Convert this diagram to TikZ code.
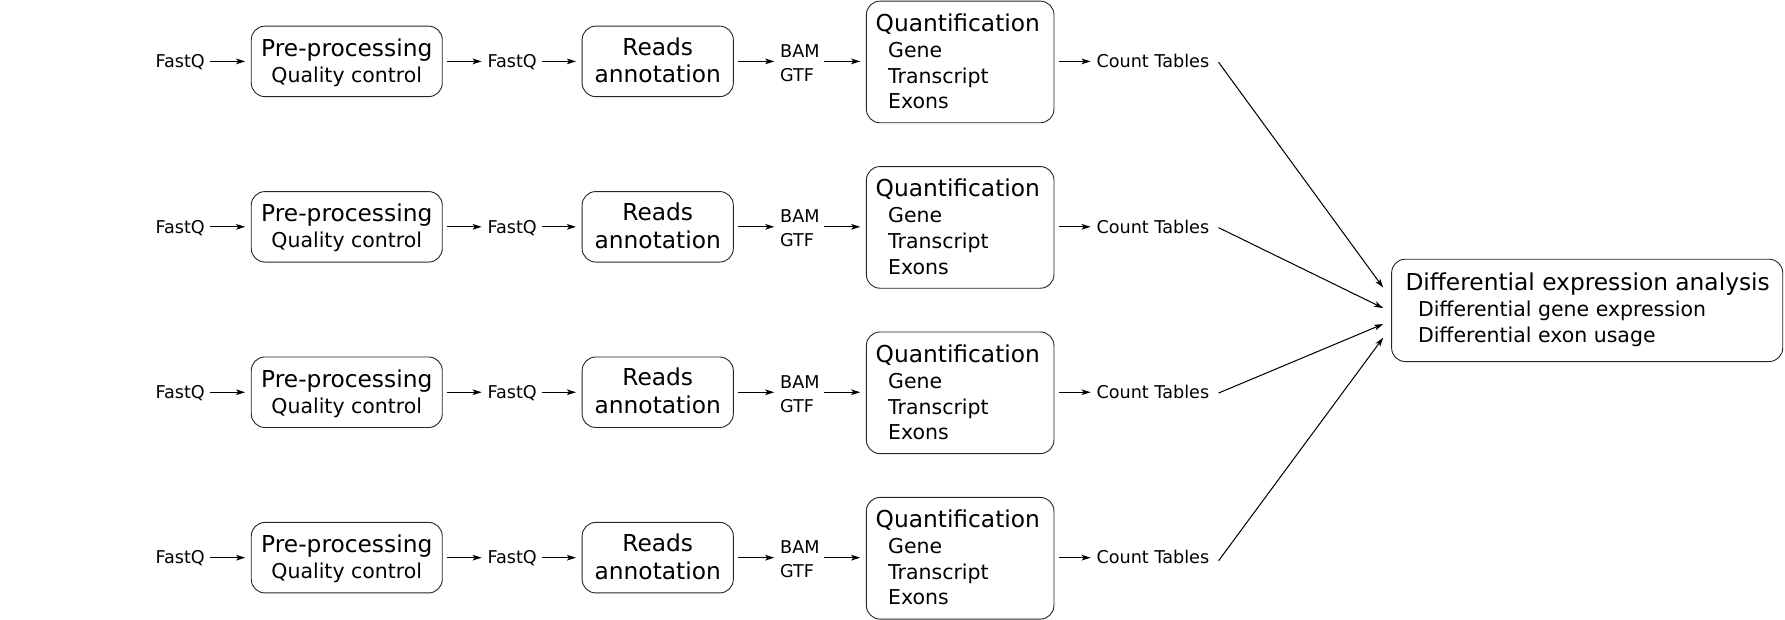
\documentclass[tikz,border=0pt]{standalone}
\usepackage{fontspec}
\setmainfont{DejaVu Sans}
\usetikzlibrary{arrows.meta,calc}
\begin{document}
\begin{tikzpicture}[x=1pt,y=-1pt,
  box/.style={draw=black!85, line width=0.8pt, rounded corners=12pt, inner sep=0pt},
  sm/.style={font=\fontsize{15.5}{18}\selectfont, inner sep=0pt, anchor=base},
  md/.style={font=\fontsize{18}{21}\selectfont, inner sep=0pt, anchor=base},
  lg/.style={font=\fontsize{20.5}{24}\selectfont, inner sep=0pt, anchor=base},
  tip/.style={-{Stealth[length=8pt,width=5pt,inset=2pt]}, line width=0.9pt},
  arr/.style={tip, shorten <=4pt, shorten >=5pt},
]
\useasboundingbox (0,0) rectangle (1570,545);
\foreach \r/\y in {1/54,2/199.5,3/345,4/490.5}{
  \node[sm] (fa\r) at (158.5,\y+5.5) {FastQ};
  \node[box, minimum width=168pt, minimum height=62pt] (pp\r) at (305,\y) {};
  \node[lg] (ppa\r) at (305,\y-4.5) {Pre-processing};
  \node[md] (ppb\r) at (305,\y+18.5) {Quality control};
  \node[sm] (fb\r) at (450.5,\y+5.5) {FastQ};
  \node[box, minimum width=133pt, minimum height=62pt] (ra\r) at (578.5,\y) {};
  \node[lg] (raa\r) at (578.5,\y-5.5) {Reads};
  \node[lg] (rab\r) at (578.5,\y+19) {annotation};
  \node[sm, anchor=base west] (bam\r) at (686,\y-3.5) {BAM};
  \node[sm, anchor=base west] (gtf\r) at (686,\y+17.5) {GTF};
  \node[box, minimum width=165pt, minimum height=107pt] (q\r) at (844.5,\y+0.5) {};
  \node[lg, anchor=base west] (qa\r) at (770,\y-26.5) {Quantification};
  \node[md, anchor=base west] (qb\r) at (781,\y-3.5) {Gene};
  \node[md, anchor=base west] (qc\r) at (781,\y+19.5) {Transcript};
  \node[md, anchor=base west] (qd\r) at (781,\y+41.5) {Exons};
  \node[sm] (ct\r) at (1014,\y+5.5) {Count Tables};
  \draw[arr] (fa\r.east |- pp\r.west) -- (pp\r.west);
  \draw[arr] (pp\r.east) -- (fb\r.west |- pp\r.east);
  \draw[arr] (fb\r.east |- ra\r.west) -- (ra\r.west);
  \draw[arr] (ra\r.east) -- (bam\r.west |- ra\r.east);
  \draw[arr] (bam\r.east |- ra\r.east) -- (q\r.west |- ra\r.east);
  \draw[arr] (q\r.east |- ra\r.east) -- (ct\r.west |- ra\r.east);
}
\node[box, minimum width=344pt, minimum height=90pt] (de) at (1396,273) {};
\node[lg, anchor=base west] (dea) at (1236,255.5) {Differential expression analysis};
\node[md, anchor=base west] (deb) at (1247,278.5) {Differential gene expression};
\node[md, anchor=base west] (dec) at (1247,301.5) {Differential exon usage};
\draw[tip] ($(ct1.east)+(8,1)$) -- ($(de.west)+(-7,-20)$);
\draw[tip] ($(ct2.east)+(8,1)$) -- ($(de.west)+(-7,-2)$);
\draw[tip] ($(ct3.east)+(8,1)$) -- ($(de.west)+(-7,12)$);
\draw[tip] ($(ct4.east)+(8,3)$) -- ($(de.west)+(-7,24)$);
\end{tikzpicture}
\end{document}
